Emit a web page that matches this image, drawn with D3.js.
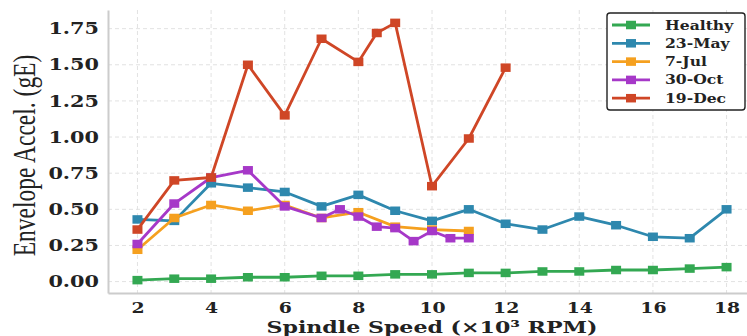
<!DOCTYPE html>
<html>
<head>
<meta charset="utf-8">
<script src="https://cdn.jsdelivr.net/npm/d3@7"></script>
<style>
  html, body { margin: 0; padding: 0; background: #fff; }
  svg { display: block; }
</style>
</head>
<body>
<svg id="chart" width="747" height="336"></svg>
<script>
// ---- data ----
const speeds = [2, 3, 4, 5, 6, 7, 8, 9, 10, 11, 12, 13, 14, 15, 16, 17, 18];
const healthy = [0.01, 0.02, 0.02, 0.03, 0.03, 0.04, 0.04, 0.05, 0.05, 0.06, 0.06, 0.07, 0.07, 0.08, 0.08, 0.09, 0.10];
const may23 = [0.43, 0.42, 0.68, 0.65, 0.62, 0.52, 0.60, 0.49, 0.42, 0.50, 0.40, 0.36, 0.45, 0.39, 0.31, 0.30, 0.50];
const jul7Speeds = [2, 3, 4, 5, 6, 7, 8, 9, 10, 11];
const jul7 = [0.22, 0.44, 0.53, 0.49, 0.53, 0.44, 0.48, 0.38, 0.36, 0.35];
const oct30Speeds = [2, 3, 4, 5, 6, 7, 7.5, 8, 8.5, 9, 9.5, 10, 10.5, 11];
const oct30 = [0.26, 0.54, 0.72, 0.77, 0.52, 0.44, 0.50, 0.45, 0.38, 0.37, 0.28, 0.35, 0.30, 0.30];
const dec19Speeds = [2, 3, 4, 5, 6, 7, 8, 8.5, 9, 10, 11, 12];
const dec19 = [0.36, 0.70, 0.72, 1.50, 1.15, 1.68, 1.52, 1.72, 1.79, 0.66, 0.99, 1.48];
const seriesNames = ["Healthy", "23-May", "7-Jul", "30-Oct", "19-Dec"];
const seriesColors = ["#33a852", "#2e88ae", "#f5a01f", "#a638c8", "#cf4626"];
const xTicks = [2, 4, 6, 8, 10, 12, 14, 16, 18];
const yTicks = [0, 0.25, 0.5, 0.75, 1.0, 1.25, 1.5, 1.75];
const xLabel = "Spindle Speed (×10³ RPM)";
const yLabel = "Envelope Accel. (gE)";

const series = [
  { name: seriesNames[0], xs: speeds, ys: healthy },
  { name: seriesNames[1], xs: speeds, ys: may23 },
  { name: seriesNames[2], xs: jul7Speeds, ys: jul7 },
  { name: seriesNames[3], xs: oct30Speeds, ys: oct30 },
  { name: seriesNames[4], xs: dec19Speeds, ys: dec19 }
];

// ---- layout ----
const SX = 1.3; // horizontal stretch of the text in the reference
const plotL = 108, plotR = 756, plotT = 10, plotB = 293;
const svg = d3.select("#chart");

const x = d3.scaleLinear().domain([1.2, 18.8]).range([plotL, plotR]);
const y = d3.scaleLinear().domain([-0.079, 1.879]).range([plotB, plotT]);

const tickFont = "'DejaVu Serif', serif";

// grid
const grid = svg.append("g");
grid.selectAll(".vg").data(xTicks).enter().append("line")
  .attr("x1", d => x(d)).attr("x2", d => x(d))
  .attr("y1", plotT).attr("y2", plotB)
  .attr("stroke", "#e2e2e2").attr("stroke-width", 1).attr("stroke-dasharray", "4,3");
grid.selectAll(".hg").data(yTicks).enter().append("line")
  .attr("x1", plotL).attr("x2", plotR)
  .attr("y1", d => y(d)).attr("y2", d => y(d))
  .attr("stroke", "#e2e2e2").attr("stroke-width", 1).attr("stroke-dasharray", "4,3");

// axes
const xAxis = svg.append("g").attr("transform", `translate(0,${plotB})`)
  .call(d3.axisBottom(x).tickValues(xTicks).tickSize(0).tickPadding(9.5).tickFormat(d3.format("d")));
xAxis.select(".domain").attr("stroke", "#cccccc").attr("stroke-width", 2);
xAxis.selectAll("text")
  .attr("font-family", tickFont).attr("font-weight", "bold").attr("font-size", 14.5)
  .attr("fill", "#222")
  .attr("transform", `scale(${SX},1)`);

const yAxis = svg.append("g").attr("transform", `translate(${plotL},0)`)
  .call(d3.axisLeft(y).tickValues(yTicks).tickSize(0).tickPadding(0).tickFormat(d3.format(".2f")));
yAxis.select(".domain").attr("stroke", "#cccccc").attr("stroke-width", 2);
yAxis.selectAll("text")
  .attr("font-family", tickFont).attr("font-weight", "bold").attr("font-size", 16)
  .attr("fill", "#222")
  .attr("x", -9 / SX)
  .attr("transform", `scale(${SX},1)`);

// axis labels
svg.append("text")
  .attr("transform", `translate(${(plotL + plotR) / 2},333) scale(${SX},1)`)
  .attr("text-anchor", "middle")
  .attr("font-family", tickFont).attr("font-weight", "bold").attr("font-size", 17)
  .attr("fill", "#222")
  .text(xLabel);

svg.append("text")
  .attr("transform", `translate(35,155.5) scale(${SX},1) rotate(-90)`)
  .attr("text-anchor", "middle")
  .attr("font-family", "'Liberation Serif', 'Times New Roman', serif").attr("font-size", 23.5)
  .attr("fill", "#222")
  .text(yLabel);

// series
const line = d3.line().x(d => x(d[0])).y(d => y(d[1]));
const mW = 10, mH = 8.5;
series.forEach((s, i) => {
  const pts = s.xs.map((v, j) => [v, s.ys[j]]);
  const g = svg.append("g");
  g.append("path").datum(pts)
    .attr("d", line)
    .attr("fill", "none")
    .attr("stroke", seriesColors[i])
    .attr("stroke-width", 2.8)
    .attr("stroke-linejoin", "round");
  g.selectAll("rect").data(pts).enter().append("rect")
    .attr("x", d => x(d[0]) - mW / 2)
    .attr("y", d => y(d[1]) - mH / 2)
    .attr("width", mW).attr("height", mH)
    .attr("fill", seriesColors[i]);
});

// legend
const lg = svg.append("g");
lg.append("rect")
  .attr("x", 607).attr("y", 13).attr("width", 138).attr("height", 97)
  .attr("rx", 3).attr("fill", "#fff").attr("stroke", "#222").attr("stroke-width", 1.4);
seriesNames.forEach((n, i) => {
  const cy = 25 + i * 18.3;
  lg.append("line").attr("x1", 612).attr("x2", 650).attr("y1", cy).attr("y2", cy)
    .attr("stroke", seriesColors[i]).attr("stroke-width", 2.8);
  lg.append("rect").attr("x", 631 - mW / 2).attr("y", cy - mH / 2)
    .attr("width", mW).attr("height", mH).attr("fill", seriesColors[i]);
  lg.append("text")
    .attr("transform", `translate(665,${cy + 4.5}) scale(${SX},1)`)
    .attr("font-family", tickFont).attr("font-weight", "bold").attr("font-size", 12)
    .attr("fill", "#222")
    .text(n);
});
</script>
</body>
</html>
